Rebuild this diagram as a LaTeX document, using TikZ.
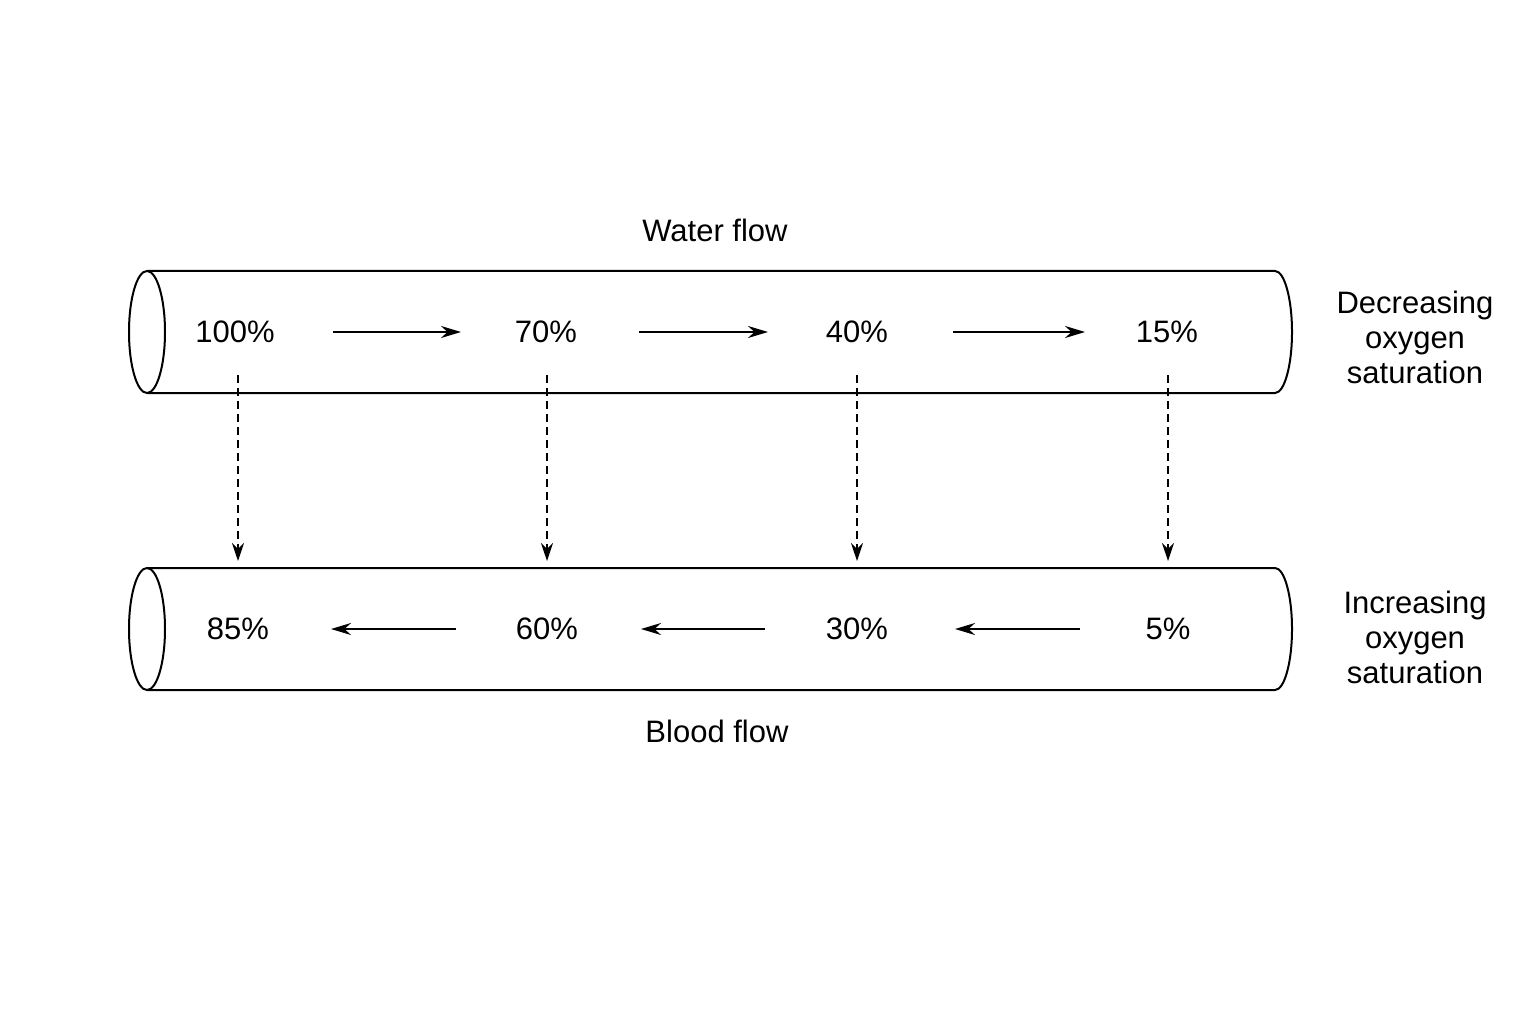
\documentclass[tikz,border=0pt]{standalone}
\usepackage{fontspec}
\setmainfont{Liberation Sans}
\usetikzlibrary{arrows.meta}
\begin{document}
\begin{tikzpicture}[x=1pt,y=-1pt,
  lbl/.style={font=\fontsize{31}{35}\selectfont, align=center},
  tube/.style={line width=2pt},
  flow/.style={line width=2pt,-{Stealth[length=20pt,width=12pt]}},
  tr/.style={line width=2pt,dash pattern=on 8pt off 5pt,-{Stealth[length=18pt,width=12pt]}}]
\useasboundingbox (0,0) rectangle (1536,1024);
% tubes
\foreach \yc in {332,629}{
  \draw[tube,fill=white] (147,\yc-61) -- (1275,\yc-61) arc[start angle=-90,end angle=90,x radius=17,y radius=61] -- (147,\yc+61);
  \draw[tube] (147,\yc) ellipse[x radius=18,y radius=61];
}
% labels
\node[lbl] (wf) at (715,230) {Water flow};
\node[lbl] (bf) at (717,731) {Blood flow};
\node[lbl] (dec) at (1415,337) {Decreasing\\oxygen\\saturation};
\node[lbl] (inc) at (1415,637) {Increasing\\oxygen\\saturation};
\node[lbl] (t1) at (235,332) {100\%};
\node[lbl] (t2) at (546,332) {70\%};
\node[lbl] (t3) at (857,332) {40\%};
\node[lbl] (t4) at (1167,332) {15\%};
\node[lbl] (b1) at (238,629) {85\%};
\node[lbl] (b2) at (547,629) {60\%};
\node[lbl] (b3) at (857,629) {30\%};
\node[lbl] (b4) at (1168,629) {5\%};
% arrow end coordinates
\coordinate (a1s) at (333,332); \coordinate (a1e) at (461,332);
\coordinate (a2s) at (639,332); \coordinate (a2e) at (768,332);
\coordinate (a3s) at (953,332); \coordinate (a3e) at (1085,332);
\coordinate (c1s) at (456,629); \coordinate (c1e) at (331,629);
\coordinate (c2s) at (765,629); \coordinate (c2e) at (641,629);
\coordinate (c3s) at (1080,629); \coordinate (c3e) at (955,629);
\draw[flow] (a1s) -- (a1e);
\draw[flow] (a2s) -- (a2e);
\draw[flow] (a3s) -- (a3e);
\draw[flow] (c1s) -- (c1e);
\draw[flow] (c2s) -- (c2e);
\draw[flow] (c3s) -- (c3e);
% dashed transfers
\foreach \x/\n in {238/1,547/2,857/3,1168/4}{
  \coordinate (d\n s) at (\x,375); \coordinate (d\n e) at (\x,561);
  \draw[tr] (d\n s) -- (d\n e);
}
\end{tikzpicture}
\end{document}
